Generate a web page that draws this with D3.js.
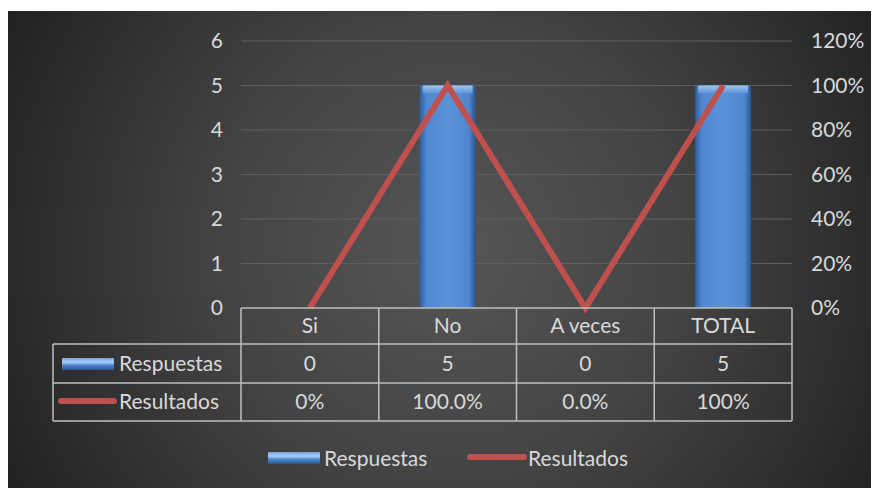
<!DOCTYPE html>
<html><head><meta charset="utf-8">
<script src="https://cdn.jsdelivr.net/npm/d3@7"></script>
<style>
html,body{margin:0;padding:0;background:#fff;}
svg{display:block;font-family:Lato,"Open Sans",sans-serif;}
</style></head>
<body>
<svg id="c" width="871" height="488"></svg>
<script>
const categories = ["Si","No","A veces","TOTAL"];
const respuestas = [0,5,0,5];
const resultados = [0,1,0,1];
const resultadosLabels = ["0%","100.0%","0.0%","100%"];
const leftTicks = [0,1,2,3,4,5,6];
const rightTicks = [0,0.2,0.4,0.6,0.8,1.0,1.2];
const seriesNames = ["Respuestas","Resultados"];

const FS = "21px";
const svg = d3.select("#c");
const defs = svg.append("defs");
const bg = defs.append("radialGradient").attr("id","bg")
  .attr("gradientUnits","userSpaceOnUse").attr("cx",450).attr("cy",250).attr("r",520);
bg.append("stop").attr("offset",0).attr("stop-color","#565656");
bg.append("stop").attr("offset",0.45).attr("stop-color","#434343");
bg.append("stop").attr("offset",1).attr("stop-color","#1f1f1f");

const bar = defs.append("linearGradient").attr("id","bar").attr("x1",0).attr("x2",1).attr("y1",0).attr("y2",0);
bar.append("stop").attr("offset",0).attr("stop-color","#2e5d9c");
bar.append("stop").attr("offset",0.12).attr("stop-color","#4f86cf");
bar.append("stop").attr("offset",0.5).attr("stop-color","#5b93d8");
bar.append("stop").attr("offset",0.88).attr("stop-color","#4f86cf");
bar.append("stop").attr("offset",1).attr("stop-color","#2a5590");
const barTop = defs.append("linearGradient").attr("id","barTop").attr("x1",0).attr("x2",0).attr("y1",0).attr("y2",1);
barTop.append("stop").attr("offset",0).attr("stop-color","#a9cdf5");
barTop.append("stop").attr("offset",1).attr("stop-color","#5b93d8");

const leg = defs.append("linearGradient").attr("id","legbar").attr("x1",0).attr("x2",0).attr("y1",0).attr("y2",1);
leg.append("stop").attr("offset",0).attr("stop-color","#6fa3e3");
leg.append("stop").attr("offset",0.35).attr("stop-color","#a9d0fa");
leg.append("stop").attr("offset",0.6).attr("stop-color","#4f86cf");
leg.append("stop").attr("offset",1).attr("stop-color","#2a5590");

svg.append("rect").attr("x",8).attr("y",11).attr("width",863).attr("height",477).attr("fill","url(#bg)");

const X0 = 241, X1 = 792, Y0 = 308, Y1 = 41;
const x = d3.scaleBand().domain(categories).range([X0,X1]);
const yL = d3.scaleLinear().domain([0,6]).range([Y0,Y1]);
const yR = d3.scaleLinear().domain([0,1.2]).range([Y0,Y1]);
const txt = "#d9d9d9";

// gridlines
svg.append("g").selectAll("line").data(leftTicks.filter(d=>d>0)).join("line")
  .attr("x1",X0).attr("x2",X1).attr("y1",d=>yL(d)).attr("y2",d=>yL(d))
  .attr("stroke","#5e5e5e").attr("stroke-width",1);

// left axis
const gl = svg.append("g").attr("transform",`translate(${X0},0)`)
  .call(d3.axisLeft(yL).tickValues(leftTicks).tickFormat(d3.format("d")).tickSize(0).tickPadding(18));
gl.select(".domain").remove();
gl.selectAll("text").attr("fill",txt).style("font-size",FS).style("font-family","Lato,sans-serif");

// right axis
const gr = svg.append("g").attr("transform",`translate(${X1},0)`)
  .call(d3.axisRight(yR).tickValues(rightTicks).tickFormat(d3.format(".0%")).tickSize(0).tickPadding(19));
gr.select(".domain").remove();
gr.selectAll("text").attr("fill",txt).style("font-size",FS).style("font-family","Lato,sans-serif");

// bars
const bw = 56;
const bars = svg.append("g").selectAll("g").data(respuestas.map((v,i)=>({c:categories[i],v}))).join("g");
bars.append("rect")
  .attr("x",d=>x(d.c)+x.bandwidth()/2-bw/2).attr("width",bw)
  .attr("y",d=>yL(d.v)).attr("height",d=>Y0-yL(d.v))
  .attr("fill","url(#bar)");
bars.filter(d=>d.v>0).append("rect")
  .attr("x",d=>x(d.c)+x.bandwidth()/2-bw/2+3).attr("width",bw-6)
  .attr("y",d=>yL(d.v)).attr("height",8)
  .attr("fill","url(#barTop)").attr("opacity",0.9);

// line
const line = d3.line().x((d,i)=>x(categories[i])+x.bandwidth()/2).y(d=>yR(d));
svg.append("path").datum(resultados).attr("d",line)
  .attr("fill","none").attr("stroke","#c0504d").attr("stroke-width",6).attr("stroke-linejoin","miter");

// data table
const rows = [Y0, 344, 383, 421];
const tcol = "#bfbfbf";
const tg = svg.append("g").attr("stroke",tcol).attr("stroke-width",1.5).attr("fill","none");
tg.append("line").attr("x1",X0).attr("x2",X1).attr("y1",rows[0]).attr("y2",rows[0]);
[1,2,3].forEach(i=>tg.append("line").attr("x1",53).attr("x2",X1).attr("y1",rows[i]).attr("y2",rows[i]));
tg.append("line").attr("x1",53).attr("x2",53).attr("y1",rows[1]).attr("y2",rows[3]);
categories.forEach(c=>tg.append("line").attr("x1",x(c)).attr("x2",x(c)).attr("y1",rows[0]).attr("y2",rows[3]));
tg.append("line").attr("x1",X1).attr("x2",X1).attr("y1",rows[0]).attr("y2",rows[3]);

const tt = svg.append("g").attr("fill",txt).style("font-size",FS).attr("text-anchor","middle");
categories.forEach((c,i)=>{
  const cx = x(c)+x.bandwidth()/2;
  tt.append("text").attr("x",cx).attr("y",(rows[0]+rows[1])/2+7).text(c);
  tt.append("text").attr("x",cx).attr("y",(rows[1]+rows[2])/2+7).text(respuestas[i]);
  tt.append("text").attr("x",cx).attr("y",(rows[2]+rows[3])/2+7).text(resultadosLabels[i]);
});
// table legend keys
svg.append("rect").attr("x",62).attr("y",358).attr("width",52).attr("height",12).attr("fill","url(#legbar)");
svg.append("line").attr("x1",61).attr("x2",114).attr("y1",401).attr("y2",401)
  .attr("stroke","#c0504d").attr("stroke-width",6).attr("stroke-linecap","round");
svg.append("text").attr("x",119).attr("y",(rows[1]+rows[2])/2+7).attr("fill",txt).style("font-size",FS).text(seriesNames[0]);
svg.append("text").attr("x",119).attr("y",(rows[2]+rows[3])/2+7).attr("fill",txt).style("font-size",FS).text(seriesNames[1]);

// bottom legend
svg.append("rect").attr("x",268).attr("y",452).attr("width",52).attr("height",12).attr("fill","url(#legbar)");
svg.append("text").attr("x",324).attr("y",466).attr("fill",txt).style("font-size",FS).text(seriesNames[0]);
svg.append("line").attr("x1",470).attr("x2",524).attr("y1",457).attr("y2",457)
  .attr("stroke","#c0504d").attr("stroke-width",6).attr("stroke-linecap","round");
svg.append("text").attr("x",528).attr("y",466).attr("fill",txt).style("font-size",FS).text(seriesNames[1]);
</script>
</body></html>
